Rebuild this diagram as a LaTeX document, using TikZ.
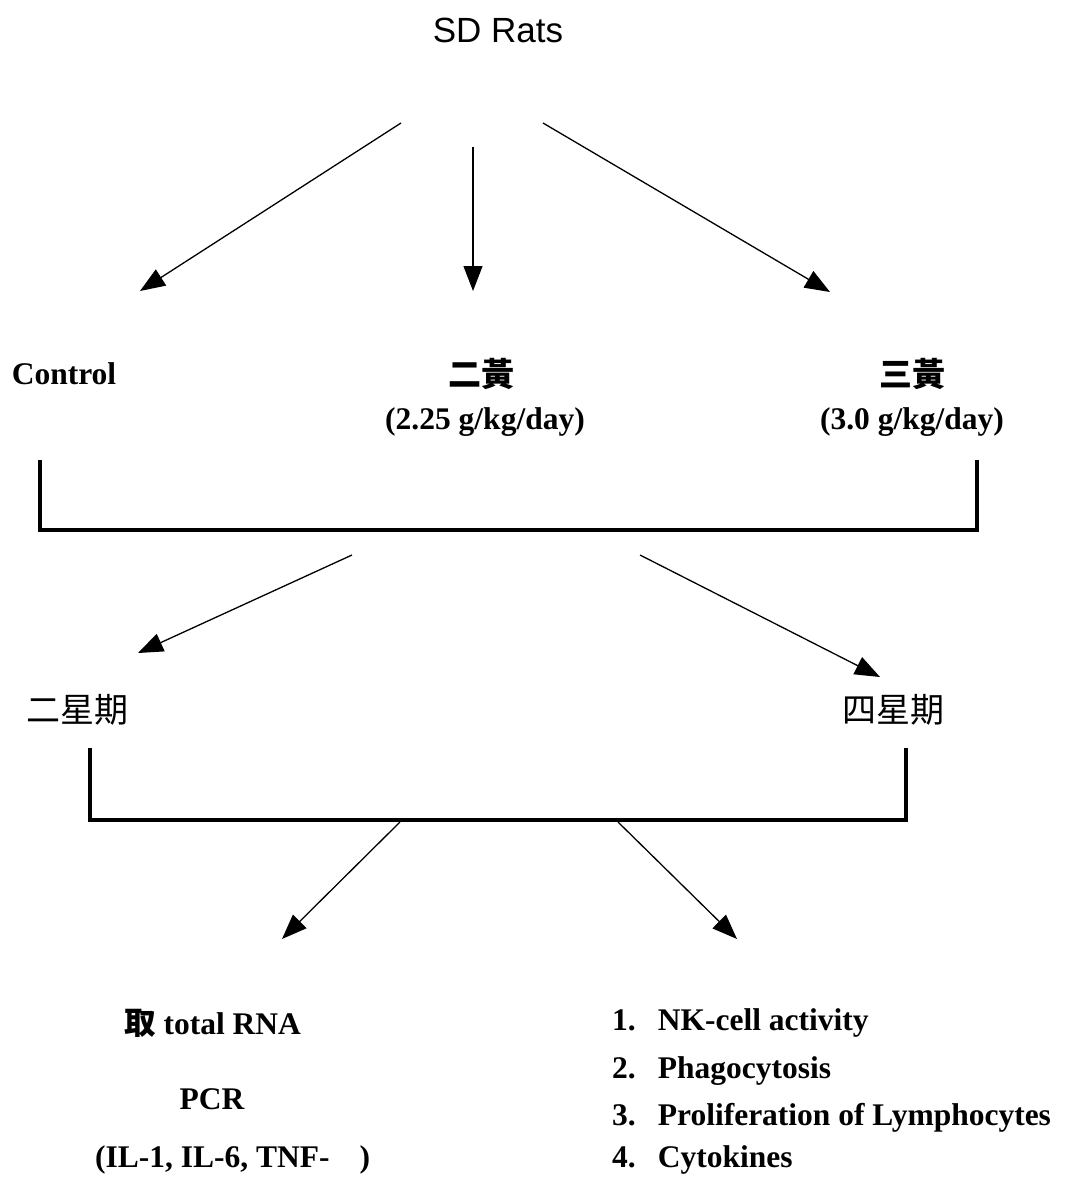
\documentclass[tikz,border=0pt]{standalone}
\usepackage{fontspec}
\setmainfont{Liberation Serif}
\newfontfamily\sdfont{Liberation Sans}
\newfontfamily\cjk{Noto Sans CJK TC}
\usetikzlibrary{arrows.meta}
\tikzstyle{lbl} = [font=\fontsize{31.5}{37}\selectfont\bfseries, inner sep=0pt]
\tikzstyle{zh} = [font=\fontsize{34}{40}\selectfont\cjk, inner sep=0pt]
\tikzstyle{flow} = [-{Triangle[length=25pt, width=19pt]}, line width=1.3pt]
\tikzstyle{bracket} = [line width=3.5pt, line join=miter]

\begin{document}
\begin{tikzpicture}[x=1pt, y=-1pt]
    \useasboundingbox (0,0) rectangle (1069,1184);
    % title
    \node (rats) [inner sep=0pt, font=\fontsize{35}{42}\selectfont\sdfont] at (498,30) {SD Rats};
    \coordinate (r1) at (401,123);
    \coordinate (r2) at (473,147);
    \coordinate (r3) at (543,123);
    \coordinate (g1) at (140,291);
    \coordinate (g2) at (473,291);
    \coordinate (g3) at (830,292);
    \draw[flow] (r1) -- (g1);
    \draw[flow] (r2) -- (g2);
    \draw[flow] (r3) -- (g3);
    % groups
    \node (ctrl) [lbl] at (64,374) {Control};
    \node (two) [zh, font=\fontsize{33}{40}\selectfont\cjk\bfseries] at (481,374) {二黃};
    \node (twod) [lbl] at (485,422) {(2.25 g/kg/day)};
    \node (three) [zh, font=\fontsize{33}{40}\selectfont\cjk\bfseries] at (912,374) {三黃};
    \node (threed) [lbl] at (912,422) {(3.0 g/kg/day)};
    \coordinate (b1a) at (40,460);
    \coordinate (b1b) at (40,530);
    \coordinate (b1c) at (977,530);
    \coordinate (b1d) at (977,460);
    \draw[bracket] (b1a) -- (b1b) -- (b1c) -- (b1d);
    \coordinate (w1) at (352,555);
    \coordinate (w2) at (640,555);
    \coordinate (t1) at (138,653);
    \coordinate (t2) at (880,677);
    \draw[flow] (w1) -- (t1);
    \draw[flow] (w2) -- (t2);
    % weeks
    \node (wk2) [zh] at (78,710) {二星期};
    \node (wk4) [zh] at (893,710) {四星期};
    \coordinate (b2a) at (90,748);
    \coordinate (b2b) at (90,820);
    \coordinate (b2c) at (906,820);
    \coordinate (b2d) at (906,748);
    \draw[bracket] (b2a) -- (b2b) -- (b2c) -- (b2d);
    \coordinate (m1) at (400,822);
    \coordinate (m2) at (618,822);
    \coordinate (e1) at (282,939);
    \coordinate (e2) at (737,939);
    \draw[flow] (m1) -- (e1);
    \draw[flow] (m2) -- (e2);
    % assays
    \node (rna) [lbl, anchor=west] at (124,1023) {{\cjk 取} total RNA};
    \node (pcr) [lbl] at (212,1099) {PCR};
    \node (cyt) [lbl, anchor=west] at (95,1160) {(IL-1, IL-6, TNF-\hspace{30pt})};
    \node (n1) [lbl, anchor=west] at (612,1023) {1.\hspace{22pt}NK-cell activity};
    \node (n2) [lbl, anchor=west] at (612,1071) {2.\hspace{22pt}Phagocytosis};
    \node (n3) [lbl, anchor=west] at (612,1118) {3.\hspace{22pt}Proliferation of Lymphocytes};
    \node (n4) [lbl, anchor=west] at (612,1160) {4.\hspace{22pt}Cytokines};
\end{tikzpicture}
\end{document}
